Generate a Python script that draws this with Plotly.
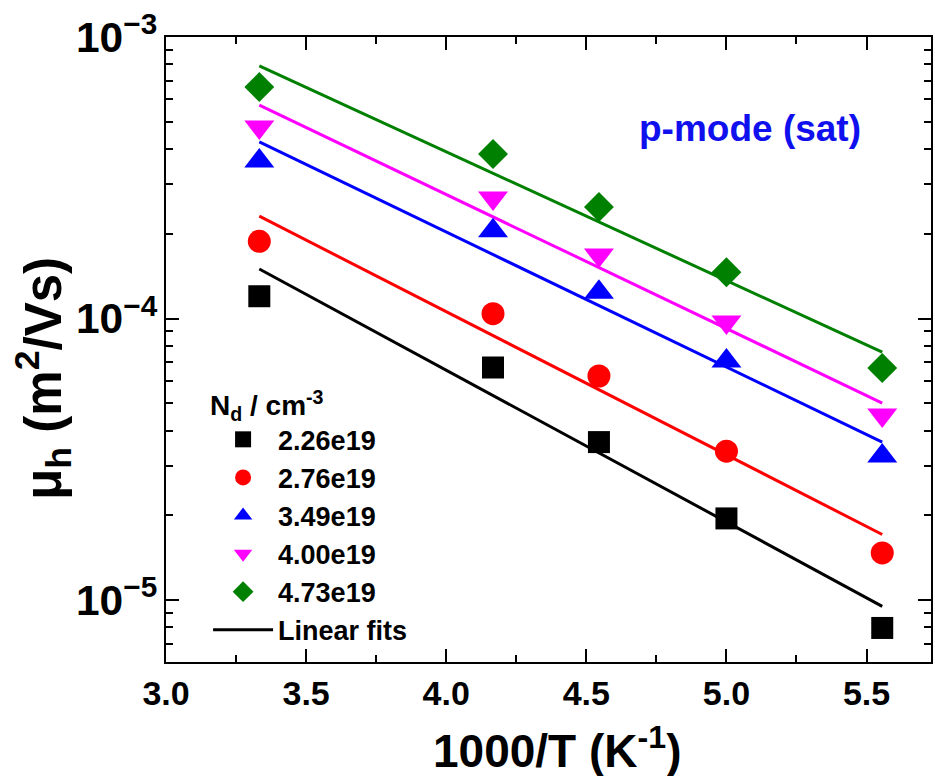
import plotly.graph_objects as go

# ---- data ----
inv_T = [3.333, 4.167, 4.545, 5.000, 5.556]
labels = ["2.26e19", "2.76e19", "3.49e19", "4.00e19", "4.73e19"]
colors = ["#000000", "#ff0000", "#0000ff", "#ff00ff", "#008000"]
symbols = ["square", "circle", "triangle-up", "triangle-down", "diamond"]
sizes = [22, 23, 26, 26, 23]
mu_226 = [1.20e-4, 6.7e-5, 3.64e-5, 1.95e-5, 7.96e-6]
mu_276 = [1.88e-4, 1.04e-4, 6.25e-5, 3.38e-5, 1.47e-5]
mu_349 = [3.63e-4, 2.05e-4, 1.24e-4, 7.06e-5, 3.25e-5]
mu_400 = [4.79e-4, 2.68e-4, 1.68e-4, 9.73e-5, 4.54e-5]
mu_473 = [6.64e-4, 3.84e-4, 2.49e-4, 1.46e-4, 6.67e-5]
series = [mu_226, mu_276, mu_349, mu_400, mu_473]

fit_x = [3.333, 5.556]
fit_226 = [1.50e-4, 9.5e-6]
fit_276 = [2.31e-4, 1.71e-5]
fit_349 = [4.24e-4, 3.64e-5]
fit_400 = [5.73e-4, 5.01e-5]
fit_473 = [7.89e-4, 7.6e-5]
fits = [fit_226, fit_276, fit_349, fit_400, fit_473]

FONT = "Liberation Sans, Arial, sans-serif"

fig = go.Figure()
for i, (f, c) in enumerate(zip(fits, colors)):
    fig.add_trace(go.Scatter(
        x=fit_x, y=f, mode="lines", line=dict(color=c, width=3),
        name="Linear fits", showlegend=(i == 0), legendrank=2000,
    ))
for s, lab, c, sym, sz in zip(series, labels, colors, symbols, sizes):
    fig.add_trace(go.Scatter(
        x=inv_T, y=s, mode="markers", name=lab,
        marker=dict(symbol=sym, color=c, size=sz, line=dict(width=0)),
        legendrank=1000,
    ))

axis_common = dict(
    showline=True, linecolor="black", linewidth=2, mirror="ticks",
    ticks="inside", tickcolor="black", tickwidth=2, ticklen=13,
    showgrid=False, zeroline=False,
    tickfont=dict(family=FONT, size=34, color="black", weight="bold"),
)

fig.update_layout(
    width=935, height=776,
    margin=dict(l=166, r=2, t=37, b=114),
    paper_bgcolor="white", plot_bgcolor="white",
    font=dict(family=FONT, color="black"),
    xaxis=dict(
        range=[3.0, 5.73], dtick=0.5, tick0=3.0, tickformat=".1f",
        minor=dict(dtick=0.25, ticks="inside", ticklen=7, tickwidth=2, tickcolor="black"),
        **axis_common,
    ),
    yaxis=dict(
        type="log", range=[-5.22, -3.0], dtick=1, exponentformat="power",
        minor=dict(dtick="D1", ticks="inside", ticklen=7, tickwidth=2, tickcolor="black"),
        **axis_common,
    ),
    legend=dict(
        x=0.055, y=0.453, xanchor="left", yanchor="top",
        bgcolor="rgba(0,0,0,0)",
        title=dict(text="N<sub>d</sub> / cm<sup>-3</sup>",
                   font=dict(family=FONT, size=28, color="black", weight="bold")),
        font=dict(family=FONT, size=27, color="black", weight="bold"),
        itemsizing="trace", itemwidth=60,
    ),
    showlegend=True,
)

# axis titles (placed as annotations to match the reference offsets)
fig.add_annotation(
    x=0.511, y=-0.138, xref="paper", yref="paper", showarrow=False,
    xanchor="center", yanchor="middle",
    text="1000/T (K<sup>-1</sup>)",
    font=dict(family=FONT, size=46, color="black", weight="bold"),
)
fig.add_annotation(
    x=-0.160, y=0.454, xref="paper", yref="paper", showarrow=False,
    xanchor="center", yanchor="middle", textangle=-90,
    text="μ<sub>h</sub> (m<sup>2</sup>/Vs)",
    font=dict(family=FONT, size=51, color="black", weight="bold"),
)

fig.add_annotation(
    x=0.764, y=0.854, xref="paper", yref="paper", showarrow=False,
    xanchor="center", yanchor="middle",
    text="p-mode (sat)",
    font=dict(family=FONT, size=37, color="#1010ee", weight="bold"),
)

fig.write_html("out.html")
